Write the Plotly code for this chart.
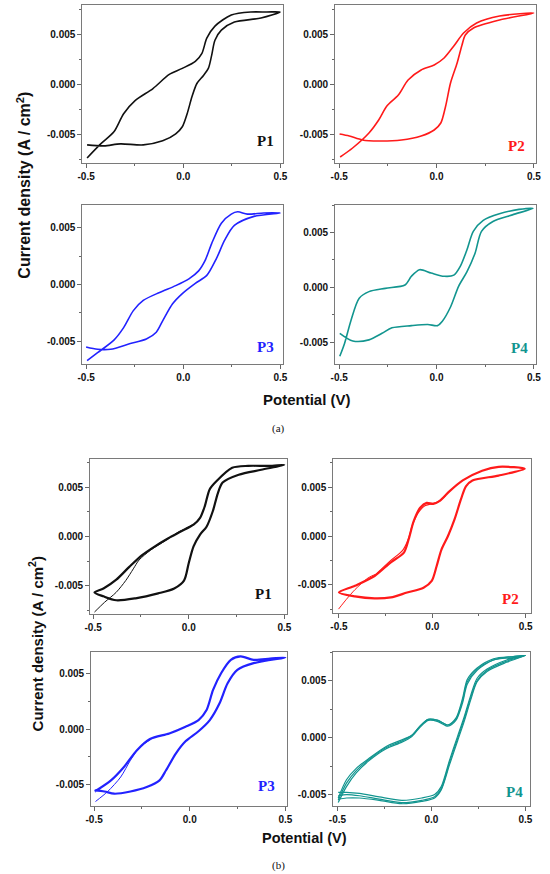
import plotly.graph_objects as go

W, H = 550, 874

# ---- data ----
# (a) single cycle voltammograms
P1A_X = [-0.495, -0.425, -0.357, -0.307, -0.248, -0.156, -0.072, -0.005, 0.062, 0.096, 0.121, 0.163, 0.247, 0.347, 0.43, 0.498,
         0.4, 0.263, 0.196, 0.163, 0.146, 0.129, 0.104, 0.07, 0.045, 0.02, -0.005, -0.039, -0.106, -0.206, -0.324, -0.408, -0.495]
P1A_Y = [-0.0073, -0.0059, -0.0047, -0.0029, -0.0016, -0.0004, 0.001, 0.0016, 0.0023, 0.0031, 0.0046, 0.0058, 0.0069, 0.0072, 0.0072, 0.0072,
         0.0066, 0.0062, 0.0054, 0.0044, 0.0029, 0.0016, 0.0009, 0.0001, -0.0012, -0.0029, -0.0042, -0.0049, -0.0056, -0.006, -0.0059, -0.0061, -0.006]

P2A_X = [-0.495, -0.431, -0.347, -0.297, -0.255, -0.196, -0.146, -0.079, -0.012, 0.039, 0.089, 0.139, 0.206, 0.324, 0.5,
         0.324, 0.19, 0.148, 0.131, 0.106, 0.072, 0.047, 0.022, -0.012, -0.079, -0.18, -0.297, -0.381, -0.448, -0.498]
P2A_Y = [-0.0073, -0.0064, -0.0049, -0.0036, -0.0022, -0.0011, 0.0004, 0.0014, 0.0019, 0.0026, 0.0038, 0.0051, 0.0061, 0.0068, 0.0071,
         0.0064, 0.0056, 0.0049, 0.0039, 0.0021, 0.0001, -0.0022, -0.0039, -0.0046, -0.0052, -0.0056, -0.0057, -0.0056, -0.0052, -0.005]

P3A_X = [-0.495, -0.441, -0.357, -0.307, -0.257, -0.206, -0.122, -0.039, 0.029, 0.079, 0.112, 0.146, 0.196, 0.247, 0.28, 0.33, 0.414, 0.498,
         0.364, 0.263, 0.213, 0.171, 0.121, 0.062, -0.005, -0.055, -0.106, -0.139, -0.19, -0.273, -0.374, -0.441, -0.5]
P3A_Y = [-0.0067, -0.006, -0.0049, -0.0038, -0.0023, -0.0014, -0.0007, -0.0001, 0.0005, 0.0012, 0.0021, 0.0036, 0.0054, 0.0062, 0.0064, 0.0062, 0.0063, 0.0063,
         0.006, 0.0052, 0.0039, 0.0023, 0.0008, 0.0001, -0.0008, -0.0017, -0.0032, -0.0042, -0.0048, -0.0052, -0.0057, -0.0057, -0.0055]

P4A_X = [-0.497, -0.472, -0.439, -0.397, -0.347, -0.263, -0.162, -0.129, -0.087, -0.028, 0.039, 0.089, 0.122, 0.156, 0.189, 0.24, 0.323, 0.424, 0.496,
         0.39, 0.29, 0.231, 0.198, 0.156, 0.114, 0.072, 0.03, 0.005, -0.045, -0.129, -0.229, -0.28, -0.347, -0.43, -0.497]
P4A_Y = [-0.0063, -0.0051, -0.003, -0.001, -0.0004, -0.0001, 0.0002, 0.001, 0.0016, 0.0013, 0.001, 0.0011, 0.0019, 0.0034, 0.0051, 0.0061, 0.0067, 0.0071, 0.0072,
         0.0066, 0.006, 0.0051, 0.0031, 0.0014, 0.0001, -0.0018, -0.0031, -0.0035, -0.0034, -0.0035, -0.0037, -0.0042, -0.0048, -0.0049, -0.0042]

# (b) multi cycle voltammograms
P1B_START_X = [-0.493, -0.44, -0.38, -0.33, -0.29, -0.26, -0.2, -0.12, -0.05, 0.02]
P1B_START_Y = [-0.0077, -0.0067, -0.0057, -0.0045, -0.0033, -0.0024, -0.0014, -0.0004, 0.0005, 0.0012]
P1B_X = [-0.493, -0.446, -0.379, -0.311, -0.244, -0.177, -0.109, -0.042, 0.025, 0.059, 0.084, 0.109, 0.143, 0.227, 0.311, 0.42, 0.5,
         0.379, 0.261, 0.177, 0.152, 0.126, 0.093, 0.059, 0.025, 0.0, -0.025, -0.076, -0.16, -0.278, -0.379, -0.446, -0.493]
P1B_Y = [-0.0057, -0.0053, -0.0044, -0.0031, -0.0019, -0.001, -0.0002, 0.0005, 0.0012, 0.0019, 0.0031, 0.0048, 0.0056, 0.007, 0.0072, 0.0072, 0.0073,
         0.0068, 0.0063, 0.0055, 0.0044, 0.0026, 0.001, 0.0002, -0.001, -0.0027, -0.0045, -0.0053, -0.0058, -0.0063, -0.0065, -0.0061, -0.0057]

P2B_START_X = [-0.502, -0.46, -0.414, -0.344, -0.3]
P2B_START_Y = [-0.0075, -0.0065, -0.0055, -0.0043, -0.0039]
P2B_X = [-0.5, -0.414, -0.309, -0.222, -0.152, -0.126, -0.1, -0.065, -0.03, 0.005, 0.04, 0.093, 0.163, 0.267, 0.355, 0.495,
         0.355, 0.215, 0.18, 0.154, 0.119, 0.084, 0.049, 0.023, -0.003, -0.047, -0.135, -0.222, -0.309, -0.414, -0.5]
P2B_Y = [-0.0058, -0.0051, -0.0041, -0.0027, -0.0017, -0.0003, 0.0015, 0.0029, 0.0034, 0.0033, 0.0036, 0.0046, 0.0057, 0.0067, 0.0071, 0.0069,
         0.0062, 0.0057, 0.0051, 0.0038, 0.0017, 0.0, -0.0014, -0.0031, -0.0046, -0.0053, -0.0058, -0.0063, -0.0064, -0.0062, -0.0058]
P2B_ALT_X = [-0.3, -0.222, -0.16, -0.13, -0.105, -0.075, -0.04, -0.005, 0.03, 0.07]
P2B_ALT_Y = [-0.0039, -0.0025, -0.0015, -0.0004, 0.0012, 0.0024, 0.0031, 0.0033, 0.0035, 0.0041]

P3B_START_X = [-0.493, -0.429, -0.361, -0.31, -0.259, -0.2]
P3B_START_Y = [-0.0065, -0.0056, -0.0043, -0.0028, -0.0016, -0.0009]
P3B_X = [-0.497, -0.412, -0.344, -0.276, -0.208, -0.107, -0.022, 0.046, 0.088, 0.122, 0.164, 0.215, 0.266, 0.334, 0.42, 0.5,
         0.334, 0.249, 0.198, 0.156, 0.105, 0.046, -0.022, -0.073, -0.124, -0.158, -0.225, -0.31, -0.395, -0.446, -0.497]
P3B_Y = [-0.0056, -0.0046, -0.0034, -0.0019, -0.0009, -0.0004, 0.0002, 0.0008, 0.0017, 0.0035, 0.005, 0.0062, 0.0065, 0.0062, 0.0063, 0.0064,
         0.0059, 0.0053, 0.0041, 0.0023, 0.0008, -0.0002, -0.0011, -0.0022, -0.0037, -0.0046, -0.0052, -0.0056, -0.0058, -0.0056, -0.0055]

P4B_X = [-0.496, -0.452, -0.4, -0.33, -0.243, -0.157, -0.104, -0.061, -0.017, 0.035, 0.087, 0.13, 0.165, 0.191, 0.243, 0.33, 0.435, 0.5,
         0.4, 0.296, 0.243, 0.209, 0.174, 0.139, 0.096, 0.052, 0.017, -0.052, -0.157, -0.278, -0.383, -0.452, -0.496]
P4B_Y1 = [-0.0057, -0.0043, -0.0031, -0.002, -0.001, -0.0004, 0.0001, 0.0009, 0.0015, 0.0014, 0.001, 0.0015, 0.003, 0.0047, 0.0059, 0.0068, 0.007, 0.0072,
          0.0068, 0.006, 0.0052, 0.0037, 0.0018, 0.0001, -0.002, -0.0043, -0.005, -0.0053, -0.0055, -0.0052, -0.0049, -0.0048, -0.0048]
P4B_Y2 = [-0.0055, -0.0040, -0.0029, -0.0019, -0.0009, -0.0003, 0.0002, 0.001, 0.0016, 0.0015, 0.0011, 0.0016, 0.0032, 0.0049, 0.006, 0.0068, 0.0071, 0.0072,
          0.0067, 0.0059, 0.005, 0.0035, 0.0016, -0.0001, -0.0022, -0.0045, -0.0052, -0.0055, -0.0057, -0.0054, -0.0051, -0.005, -0.0051]
P4B_Y3 = [-0.0053, -0.0037, -0.0027, -0.0018, -0.0008, -0.0002, 0.0002, 0.001, 0.0016, 0.0015, 0.0011, 0.0017, 0.0034, 0.0051, 0.0061, 0.0069, 0.0071, 0.0072,
          0.0066, 0.0058, 0.0049, 0.0033, 0.0014, -0.0003, -0.0024, -0.0046, -0.0053, -0.0056, -0.0058, -0.0055, -0.0053, -0.0053, -0.0054]

X_TICKS = [-0.5, 0.0, 0.5]
X_TICK_TEXT = ["-0.5", "0.0", "0.5"]
Y_TICKS = [-0.005, 0.0, 0.005]
Y_TICK_TEXT = ["-0.005", "0.000", "0.005"]

BLACK, RED, BLUE, TEAL = "#111111", "#ff1a1a", "#2222ff", "#12958f"

# panel boxes in pixels: left, right, top, bottom, x range, y range
panels = [
    (78, 283, 5, 163, [-0.519, 0.515], [-0.0078, 0.0079]),
    (336, 541, 5, 163, [-0.52, 0.512], [-0.0079, 0.0079]),
    (78, 283, 205, 364, [-0.519, 0.515], [-0.0070, 0.0070]),
    (336, 541, 205, 364, [-0.52, 0.512], [-0.0070, 0.0075]),
    (86, 287, 459, 614, [-0.515, 0.515], [-0.0079, 0.0079]),
    (334, 536, 459, 613, [-0.53, 0.53], [-0.0079, 0.0079]),
    (87, 287, 652, 806, [-0.515, 0.51], [-0.0069, 0.0069]),
    (334, 535, 652, 806, [-0.522, 0.526], [-0.0060, 0.0075]),
]

fig = go.Figure()

def add_line(i, xs, ys, color, width):
    fig.add_trace(go.Scatter(x=xs, y=ys, mode="lines", line=dict(color=color, width=width, shape="spline", smoothing=0.8),
                             xaxis="x" if i == 0 else "x%d" % (i + 1), yaxis="y" if i == 0 else "y%d" % (i + 1),
                             showlegend=False, hoverinfo="skip"))

add_line(0, P1A_X, P1A_Y, BLACK, 1.6)
add_line(1, P2A_X, P2A_Y, RED, 1.6)
add_line(2, P3A_X, P3A_Y, BLUE, 1.6)
add_line(3, P4A_X, P4A_Y, TEAL, 1.6)

add_line(4, P1B_START_X, P1B_START_Y, BLACK, 1.0)
add_line(4, P1B_X, P1B_Y, BLACK, 2.2)
add_line(5, P2B_START_X, P2B_START_Y, RED, 1.0)
add_line(5, P2B_ALT_X, P2B_ALT_Y, RED, 1.2)
add_line(5, P2B_X, P2B_Y, RED, 2.2)
add_line(6, P3B_START_X, P3B_START_Y, BLUE, 1.0)
add_line(6, P3B_X, P3B_Y, BLUE, 2.2)
add_line(7, P4B_X, P4B_Y1, TEAL, 1.2)
add_line(7, P4B_X, P4B_Y2, TEAL, 1.2)
add_line(7, P4B_X, P4B_Y3, TEAL, 1.2)

tickfont = dict(family="Liberation Sans, Arial", size=10, color="#111111", weight="bold")
layout = {}
for i, (l, r, t, b, xr, yr) in enumerate(panels):
    sfx = "" if i == 0 else str(i + 1)
    layout["xaxis" + sfx] = dict(
        domain=[l / W, r / W], range=xr, anchor="y" + sfx,
        tickvals=X_TICKS, ticktext=X_TICK_TEXT, tickfont=tickfont, ticklabeloverflow="allow",
        ticks="outside", ticklen=4, tickcolor="#666666",
        minor=dict(tickvals=[-0.25, 0.25], ticks="outside", ticklen=2, tickcolor="#666666"),
        showline=True, mirror=True, linecolor="#7a7a7a", linewidth=1.2,
        showgrid=False, zeroline=False, fixedrange=True)
    layout["yaxis" + sfx] = dict(
        domain=[1 - b / H, 1 - t / H], range=yr, anchor="x" + sfx,
        tickvals=Y_TICKS, ticktext=Y_TICK_TEXT, tickfont=tickfont, ticklabeloverflow="allow",
        ticks="outside", ticklen=4, tickcolor="#666666",
        minor=dict(tickvals=[-0.0075, -0.0025, 0.0025, 0.0075], ticks="outside", ticklen=2, tickcolor="#666666"),
        showline=True, mirror=True, linecolor="#7a7a7a", linewidth=1.2,
        showgrid=False, zeroline=False, fixedrange=True)

fig.update_layout(width=W, height=H, margin=dict(l=0, r=0, t=0, b=0),
                  paper_bgcolor="white", plot_bgcolor="white", **layout)

def px_note(x, y, text, size, color="#111111", family="Liberation Sans, Arial", bold=True, angle=0):
    fig.add_annotation(x=x / W, y=1 - y / H, xref="paper", yref="paper", text=text, showarrow=False,
                       textangle=angle, xanchor="center", yanchor="middle",
                       font=dict(family=family, size=size, color=color, weight="bold" if bold else "normal"))

serif = "Liberation Serif, Times New Roman"
px_note(265, 141, "P1", 15, BLACK, serif)
px_note(521, 146, "P2", 15, RED, serif)
px_note(265, 347, "P3", 15, BLUE, serif)
px_note(524, 348, "P4", 15, TEAL, serif)
px_note(263, 594, "P1", 15, BLACK, serif)
px_note(515, 599, "P2", 15, RED, serif)
px_note(266, 786, "P3", 15, BLUE, serif)
px_note(519, 792, "P4", 15, TEAL, serif)

px_note(18, 185, "Current density (A / cm<sup>2</sup>)", 16, angle=-90)
px_note(30, 644, "Current density (A / cm<sup>2</sup>)", 15, angle=-90)
px_note(307, 399, "Potential (V)", 15)
px_note(305, 838, "Potential (V)", 14.5)
px_note(278, 428, "(a)", 11, family=serif, bold=False)
px_note(278, 865, "(b)", 11, family=serif, bold=False)

# the page body has a default 8px margin; drop it so the figure sits at the window corner
fig.write_html("out.html", config={"displayModeBar": False},
               post_script="document.body.style.margin='0';document.body.style.overflow='hidden';")
